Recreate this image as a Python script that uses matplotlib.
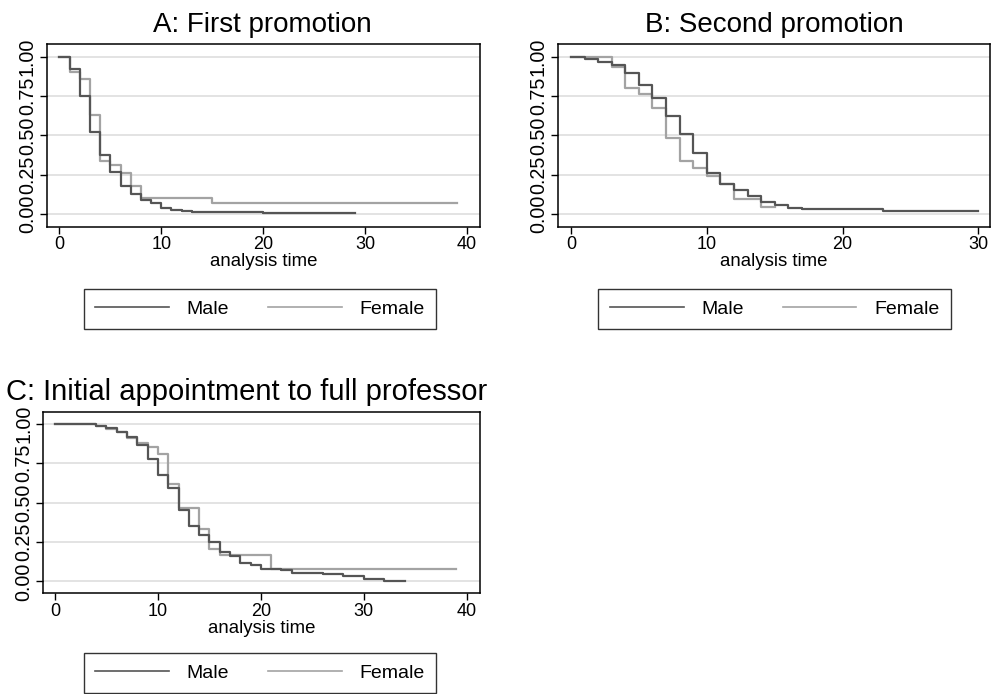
import matplotlib
matplotlib.use("Agg")
import matplotlib.pyplot as plt
from matplotlib.lines import Line2D

plt.rcParams['font.family'] = ['Liberation Sans', 'DejaVu Sans']

# ---- data (Kaplan-Meier step estimates) ----
a_male_t = [0, 1, 2, 3, 4, 5, 6, 7, 8, 9, 10, 11, 12, 13, 16, 20, 29]
a_male_s = [1.0, 0.92, 0.75, 0.52, 0.375, 0.27, 0.175, 0.13, 0.09, 0.07, 0.04, 0.025, 0.02, 0.015, 0.01, 0.005, 0.005]
a_fem_t = [0, 1, 2, 3, 4, 5, 6, 7, 8, 15, 39]
a_fem_s = [1.0, 0.90, 0.86, 0.63, 0.34, 0.31, 0.26, 0.18, 0.10, 0.07, 0.07]

b_male_t = [0, 1, 2, 3, 4, 5, 6, 7, 8, 9, 10, 11, 12, 13, 14, 15, 16, 17, 23, 30]
b_male_s = [1.0, 0.987, 0.966, 0.948, 0.898, 0.82, 0.74, 0.62, 0.51, 0.39, 0.26, 0.19, 0.15, 0.115, 0.078, 0.055, 0.036, 0.03, 0.02, 0.02]
b_fem_t = [0, 3, 4, 5, 6, 7, 8, 9, 10, 11, 12, 14, 15]
b_fem_s = [1.0, 0.936, 0.80, 0.765, 0.676, 0.48, 0.337, 0.29, 0.244, 0.19, 0.095, 0.047, 0.047]

c_male_t = [0, 2, 4, 5, 6, 7, 8, 9, 10, 11, 12, 13, 14, 15, 16, 17, 18, 19, 20, 22, 23, 26, 28, 30, 32, 34]
c_male_s = [1.0, 0.996, 0.987, 0.97, 0.947, 0.916, 0.862, 0.775, 0.676, 0.594, 0.45, 0.351, 0.292, 0.249, 0.186,
            0.158, 0.118, 0.104, 0.08, 0.07, 0.053, 0.044, 0.032, 0.015, 0.004, 0.004]
c_fem_t = [0, 2, 4, 5, 6, 7, 8, 9, 10, 11, 12, 14, 15, 16, 21, 39]
c_fem_s = [1.0, 0.997, 0.985, 0.968, 0.95, 0.91, 0.88, 0.85, 0.81, 0.617, 0.465, 0.334, 0.207, 0.169, 0.08, 0.08]

y_ticks = [0, 0.25, 0.5, 0.75, 1.0]
y_tick_labels = ["0.00", "0.25", "0.50", "0.75", "1.00"]
titles = ["A: First promotion", "B: Second promotion", "C: Initial appointment to full professor"]
series_labels = ["Male", "Female"]
x_label = "analysis time"

W, H = 994, 694
MALE_C = '#555555'
FEM_C = '#a3a3a3'
GRID_C = '#dedede'

fig = plt.figure(figsize=(W / 100, H / 100), dpi=100)


def px_axes(l, t, r, b):
    return fig.add_axes([l / W, 1 - b / H, (r - l) / W, (b - t) / H])


def setup(ax, xlim, xticks, ylim):
    ax.set_xlim(*xlim)
    ax.set_ylim(*ylim)
    ax.set_xticks(xticks)
    ax.set_xticklabels([str(x) for x in xticks], fontsize=13)
    ax.set_yticks(y_ticks)
    ax.set_yticklabels(y_tick_labels, fontsize=14.2, rotation=90, va='center')
    ax.tick_params(axis='both', direction='out', length=5, width=1, color='black', pad=2)
    for y in y_ticks:
        ax.axhline(y, color=GRID_C, lw=1.2, zorder=0)
    for s in ax.spines.values():
        s.set_linewidth(1.1)
        s.set_color('black')
    ax.set_xlabel(x_label, fontsize=13.4, labelpad=0)


def draw(ax, mt, ms, ft, fs):
    ax.step(ft, fs, where='post', color=FEM_C, lw=1.6, zorder=3)
    ax.step(mt, ms, where='post', color=MALE_C, lw=1.6, zorder=4)


def legend(cx, cy):
    handles = [Line2D([], [], color=MALE_C, lw=1.2), Line2D([], [], color=FEM_C, lw=1.2)]
    lg = fig.legend(handles, series_labels, loc='center', bbox_to_anchor=(cx / W, 1 - cy / H),
                    ncol=2, frameon=True, fancybox=False, fontsize=14, handlelength=3.8,
                    handletextpad=0.9, columnspacing=2.0, borderpad=0.6, edgecolor='black')
    lg.get_frame().set_linewidth(1.0)


# Panel A
axA = px_axes(46.7, 44, 480, 226.7)
setup(axA, (-1.25, 41.3), [0, 10, 20, 30, 40], (-0.081, 1.081))
draw(axA, a_male_t, a_male_s, a_fem_t, a_fem_s)
fig.text(262 / W, 1 - 31.5 / H, titles[0], ha='center', va='baseline', fontsize=20)
legend(260, 309)

# Panel B
axB = px_axes(557.7, 44, 990, 226.7)
setup(axB, (-0.98, 30.86), [0, 10, 20, 30], (-0.081, 1.081))
draw(axB, b_male_t, b_male_s, b_fem_t, b_fem_s)
fig.text(774 / W, 1 - 31.5 / H, titles[1], ha='center', va='baseline', fontsize=20)
legend(774.5, 309)

# Panel C
axC = px_axes(43, 412, 480, 593)
setup(axC, (-1.17, 41.3), [0, 10, 20, 30, 40], (-0.074, 1.074))
draw(axC, c_male_t, c_male_s, c_fem_t, c_fem_s)
fig.text(247 / W, 1 - 400 / H, titles[2], ha='center', va='baseline', fontsize=21)
legend(260, 673)

fig.savefig("out.png", dpi=100)
